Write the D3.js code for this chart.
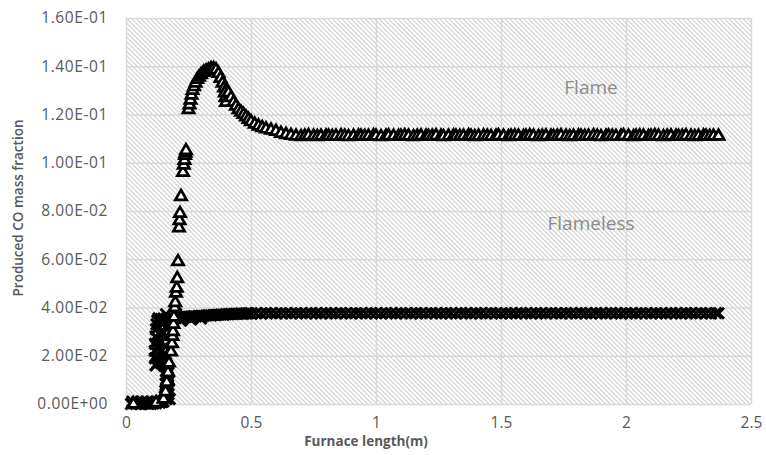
<!DOCTYPE html>
<html>
<head>
<meta charset="utf-8">
<script src="https://cdnjs.cloudflare.com/ajax/libs/d3/7.8.5/d3.min.js"></script>
<style>
  body { margin: 0; background: #fff; }
  svg { display: block; font-family: "Open Sans", sans-serif; }
</style>
</head>
<body>
<div class="chart"></div>
<script>
// tick labels
var xTicks = [0, 0.5, 1, 1.5, 2, 2.5];
var xTickLabels = ["0", "0.5", "1", "1.5", "2", "2.5"];
var yTicks = [0, 0.02, 0.04, 0.06, 0.08, 0.1, 0.12, 0.14, 0.16];
var yTickLabels = ["0.00E+00", "2.00E-02", "4.00E-02", "6.00E-02", "8.00E-02",
                   "1.00E-01", "1.20E-01", "1.40E-01", "1.60E-01"];

// flameless case (x markers) : [furnace length, CO mass fraction]
var flameless = [
  [0.02, 0], [0.025, 0.001], [0.03, 0.0003], [0.04, 0], [0.045, 0.001], [0.05, 0.0002], [0.06, 0], [0.065, 0.001],
  [0.07, 0.0003], [0.08, 0.0002], [0.085, 0.001], [0.09, 0], [0.1, 0], [0.105, 0.001], [0.11, 0.0002],
  [0.12, 0.0003], [0.125, 0.001], [0.135, 0.0005], [0.14, 0.0012], [0.145, 0.0008], [0.15, 0.001],
  [0.155, 0.003], [0.158, 0.004], [0.16, 0.005], [0.163, 0.007], [0.166, 0.009], [0.16, 0.010], [0.168, 0.011],
  [0.17, 0.013], [0.165, 0.015], [0.172, 0.006], [0.175, 0.002], [0.158, 0.012], [0.17, 0.004],
  [0.162, 0.002], [0.168, 0.008], [0.164, 0.012], [0.172, 0.010],
  [0.118, 0.016], [0.116, 0.019], [0.115, 0.022], [0.116, 0.025], [0.118, 0.028], [0.12, 0.031], [0.122, 0.033],
  [0.125, 0.0345], [0.13, 0.0355], [0.14, 0.017], [0.15, 0.02], [0.155, 0.024], [0.16, 0.028], [0.165, 0.031],
  [0.17, 0.033], [0.145, 0.03], [0.135, 0.025], [0.128, 0.019], [0.132, 0.029], [0.142, 0.022], [0.152, 0.016],
  [0.125, 0.017], [0.125, 0.023], [0.127, 0.027], [0.14, 0.026], [0.148, 0.018], [0.155, 0.021], [0.16, 0.017],
  [0.15, 0.0335], [0.18, 0.034], [0.22, 0.0345], [0.26, 0.035], [0.3, 0.0355], [0.16, 0.0372], [0.2, 0.0374],
  [0.14, 0.0352], [0.15, 0.0354], [0.16, 0.0352], [0.17, 0.0356], [0.18, 0.0355], [0.19, 0.0358], [0.2, 0.0357],
  [0.21, 0.036], [0.22, 0.0359], [0.23, 0.0361], [0.24, 0.0362], [0.25, 0.0361], [0.26, 0.0363], [0.27, 0.0364],
  [0.28, 0.0363], [0.29, 0.0365], [0.3, 0.0366], [0.31, 0.0365], [0.32, 0.0367], [0.33, 0.0368], [0.34, 0.0367],
  [0.35, 0.0369], [0.36, 0.0369], [0.37, 0.037], [0.38, 0.0371], [0.39, 0.037], [0.4, 0.0372], [0.41, 0.0372],
  [0.42, 0.0373], [0.43, 0.0373], [0.44, 0.0374], [0.45, 0.0374], [0.46, 0.0375], [0.47, 0.0374], [0.48, 0.0375],
  [0.49, 0.0376], [0.5, 0.0375],
  [0.52, 0.0376], [0.54, 0.0375], [0.56, 0.0377], [0.58, 0.0376], [0.6, 0.0375], [0.62, 0.0377], [0.64, 0.0376],
  [0.66, 0.0375], [0.68, 0.0377], [0.7, 0.0376], [0.72, 0.0375], [0.74, 0.0377], [0.76, 0.0376], [0.78, 0.0375],
  [0.8, 0.0377], [0.82, 0.0376], [0.84, 0.0375], [0.86, 0.0377], [0.88, 0.0376], [0.9, 0.0375], [0.92, 0.0377],
  [0.94, 0.0376], [0.96, 0.0375], [0.98, 0.0377], [1.0, 0.0376], [1.02, 0.0375], [1.04, 0.0377], [1.06, 0.0376],
  [1.08, 0.0375], [1.1, 0.0377], [1.12, 0.0376], [1.14, 0.0375], [1.16, 0.0377], [1.18, 0.0376], [1.2, 0.0375],
  [1.22, 0.0377], [1.24, 0.0376], [1.26, 0.0375], [1.28, 0.0377], [1.3, 0.0376], [1.32, 0.0375], [1.34, 0.0377],
  [1.36, 0.0376], [1.38, 0.0375], [1.4, 0.0377], [1.42, 0.0376], [1.44, 0.0375], [1.46, 0.0377], [1.48, 0.0376],
  [1.5, 0.0375], [1.52, 0.0377], [1.54, 0.0376], [1.56, 0.0375], [1.58, 0.0377], [1.6, 0.0376], [1.62, 0.0375],
  [1.64, 0.0377], [1.66, 0.0376], [1.68, 0.0375], [1.7, 0.0377], [1.72, 0.0376], [1.74, 0.0375], [1.76, 0.0377],
  [1.78, 0.0376], [1.8, 0.0375], [1.82, 0.0377], [1.84, 0.0376], [1.86, 0.0375], [1.88, 0.0377], [1.9, 0.0376],
  [1.92, 0.0375], [1.94, 0.0377], [1.96, 0.0376], [1.98, 0.0375], [2.0, 0.0377], [2.02, 0.0376], [2.04, 0.0375],
  [2.06, 0.0377], [2.08, 0.0376], [2.1, 0.0375], [2.12, 0.0377], [2.14, 0.0376], [2.16, 0.0375], [2.18, 0.0377],
  [2.2, 0.0376], [2.22, 0.0375], [2.24, 0.0377], [2.26, 0.0376], [2.28, 0.0375], [2.3, 0.0377], [2.32, 0.0376],
  [2.34, 0.0375], [2.36, 0.0377], [2.37, 0.0376]
];

// flame case (triangles)
var flame = [
  [0.03, 0], [0.12, 0.0005], [0.15, 0.002], [0.158, 0.005], [0.163, 0.009], [0.168, 0.013], [0.172, 0.017],
  [0.18, 0.0216], [0.184, 0.025], [0.186, 0.028], [0.188, 0.030], [0.19, 0.033], [0.192, 0.036], [0.195, 0.040],
  [0.197, 0.042], [0.2, 0.046], [0.203, 0.048], [0.205, 0.052], [0.208, 0.059],
  [0.212, 0.073], [0.214, 0.076], [0.216, 0.079], [0.22, 0.086], [0.228, 0.096], [0.231, 0.099], [0.234, 0.101],
  [0.236, 0.103], [0.238, 0.104], [0.24, 0.105],
  [0.25, 0.122], [0.254, 0.124], [0.258, 0.126], [0.262, 0.128], [0.266, 0.13], [0.272, 0.1315], [0.278, 0.133],
  [0.285, 0.1345], [0.292, 0.1355], [0.30, 0.1365], [0.31, 0.1375], [0.32, 0.138], [0.33, 0.1385], [0.34, 0.139],
  [0.35, 0.139], [0.36, 0.1385], [0.37, 0.137], [0.378, 0.135], [0.386, 0.133], [0.392, 0.131], [0.395, 0.129],
  [0.398, 0.127], [0.40, 0.125], [0.41, 0.129], [0.42, 0.127], [0.43, 0.125], [0.44, 0.1235], [0.45, 0.122],
  [0.46, 0.121], [0.47, 0.12], [0.48, 0.119], [0.49, 0.118], [0.50, 0.117], [0.515, 0.116], [0.53, 0.1152],
  [0.545, 0.1145], [0.56, 0.114], [0.58, 0.1135], [0.60, 0.113], [0.62, 0.1122], [0.64, 0.1117], [0.66, 0.1113],
  [0.68, 0.111], [0.70, 0.1108], [0.715, 0.111], [0.73, 0.1112], [0.75, 0.111], [0.765, 0.1108], [0.78, 0.111],
  [0.80, 0.1111], [0.81, 0.111], [0.825, 0.1109], [0.84, 0.111], [0.86, 0.1112], [0.875, 0.111], [0.89, 0.1108],
  [0.91, 0.111], [0.93, 0.1111], [0.94, 0.111], [0.955, 0.1109], [0.97, 0.111], [0.99, 0.1112], [1.0, 0.111],
  [1.02, 0.1108], [1.04, 0.111], [1.05, 0.1111], [1.07, 0.111], [1.09, 0.1109], [1.1, 0.111], [1.115, 0.1112],
  [1.13, 0.111], [1.15, 0.1108], [1.165, 0.111], [1.18, 0.1111], [1.2, 0.111], [1.21, 0.1109], [1.225, 0.111],
  [1.24, 0.1112], [1.26, 0.111], [1.27, 0.1108], [1.29, 0.111], [1.31, 0.1111], [1.32, 0.111], [1.335, 0.1109],
  [1.35, 0.111], [1.37, 0.1112], [1.38, 0.111], [1.395, 0.1108], [1.41, 0.111], [1.43, 0.1111], [1.445, 0.111],
  [1.46, 0.1109], [1.48, 0.111], [1.49, 0.1112], [1.51, 0.111], [1.53, 0.1108], [1.54, 0.111], [1.555, 0.1111],
  [1.57, 0.111], [1.59, 0.1109], [1.6, 0.111], [1.615, 0.1112], [1.63, 0.111], [1.65, 0.1108], [1.665, 0.111],
  [1.68, 0.1111], [1.7, 0.111], [1.71, 0.1109], [1.725, 0.111], [1.74, 0.1112], [1.76, 0.111], [1.775, 0.1108],
  [1.79, 0.111], [1.81, 0.1111], [1.82, 0.111], [1.835, 0.1109], [1.85, 0.111], [1.87, 0.1112], [1.885, 0.111],
  [1.9, 0.1108], [1.92, 0.111], [1.93, 0.1111], [1.945, 0.111], [1.96, 0.1109], [1.98, 0.111], [1.99, 0.1112],
  [2.01, 0.111], [2.03, 0.1108], [2.04, 0.111], [2.055, 0.1111], [2.07, 0.111], [2.09, 0.1109], [2.1, 0.111],
  [2.115, 0.1112], [2.13, 0.111], [2.15, 0.1108], [2.165, 0.111], [2.18, 0.1111], [2.2, 0.111], [2.21, 0.1109],
  [2.225, 0.111], [2.24, 0.1112], [2.26, 0.111], [2.275, 0.1108], [2.29, 0.111], [2.31, 0.1111], [2.32, 0.111],
  [2.335, 0.1109], [2.35, 0.111], [2.37, 0.111]
];

var width = 766;
var height = 455;
var plotLeft = 126, plotTop = 18, plotRight = 751, plotBottom = 404;

var svg = d3.select('div.chart')
  .append('svg')
  .attr('width', width)
  .attr('height', height);

// diagonal hatch for plot area
var pat = svg.append('defs').append('pattern')
  .attr('id', 'hatch')
  .attr('patternUnits', 'userSpaceOnUse')
  .attr('width', 3.3)
  .attr('height', 10)
  .attr('patternTransform', 'rotate(-45)');
pat.append('rect').attr('width', 3.3).attr('height', 10).attr('fill', '#ffffff');
pat.append('line')
  .attr('x1', 0.6).attr('y1', 0).attr('x2', 0.6).attr('y2', 10)
  .attr('stroke', '#cdcdcd')
  .attr('stroke-width', 1.1);

var xScale = d3.scaleLinear().domain([0, 2.5]).range([plotLeft, plotRight]);
var yScale = d3.scaleLinear().domain([0, 0.16]).range([plotBottom, plotTop]);

svg.append('rect')
  .attr('x', plotLeft).attr('y', plotTop)
  .attr('width', plotRight - plotLeft).attr('height', plotBottom - plotTop)
  .attr('fill', 'url(#hatch)');

// grid lines
svg.append('g')
  .attr('transform', 'translate(0,' + plotBottom + ')')
  .call(d3.axisBottom(xScale).tickValues(xTicks).tickSize(-(plotBottom - plotTop)).tickFormat(''))
  .call(function(g) {
    g.select('.domain').remove();
    g.selectAll('line').attr('stroke', '#d9d9d9').attr('stroke-width', 1.5);
  });
svg.append('g')
  .attr('transform', 'translate(' + plotLeft + ',0)')
  .call(d3.axisLeft(yScale).tickValues(yTicks).tickSize(-(plotRight - plotLeft)).tickFormat(''))
  .call(function(g) {
    g.select('.domain').remove();
    g.selectAll('line').attr('stroke', '#d9d9d9').attr('stroke-width', 1.5);
  });

// tick labels
svg.append('g')
  .attr('transform', 'translate(0,' + plotBottom + ')')
  .call(d3.axisBottom(xScale).tickValues(xTicks).tickSize(0).tickPadding(13)
    .tickFormat(function(d, i) { return xTickLabels[i]; }))
  .call(function(g) {
    g.select('.domain').remove();
    g.selectAll('text').attr('fill', '#595959').attr('font-size', '15.5px')
      .attr('font-family', '"Open Sans", sans-serif');
  });
svg.append('g')
  .attr('transform', 'translate(' + (plotLeft - 18) + ',0)')
  .call(d3.axisLeft(yScale).tickValues(yTicks).tickSize(0).tickPadding(0)
    .tickFormat(function(d, i) { return yTickLabels[i]; }))
  .call(function(g) {
    g.select('.domain').remove();
    g.selectAll('text').attr('fill', '#595959').attr('font-size', '15.5px')
      .attr('letter-spacing', '0.6px')
      .attr('font-family', '"Open Sans", sans-serif');
  });

// axis titles
svg.append('text')
  .attr('x', 366).attr('y', 446)
  .attr('text-anchor', 'middle')
  .attr('fill', '#595959')
  .attr('font-size', '13.5px')
  .attr('font-weight', 'bold')
  .text('Furnace length(m)');
svg.append('text')
  .attr('transform', 'translate(23,208) rotate(-90)')
  .attr('text-anchor', 'middle')
  .attr('fill', '#595959')
  .attr('font-size', '13.5px')
  .attr('font-weight', '600')
  .text('Produced CO mass fraction');

// flameless: x markers
var xSym = d3.symbol().type(d3.symbolX).size(80);
svg.append('g').selectAll('path')
  .data(flameless)
  .enter()
  .append('path')
  .attr('transform', function(d) { return 'translate(' + xScale(d[0]) + ',' + yScale(d[1]) + ')'; })
  .attr('d', xSym)
  .attr('fill', 'none')
  .attr('stroke', '#000')
  .attr('stroke-width', 3);

// flame: triangles
var triSym = d3.symbol().type(d3.symbolTriangle).size(55);
svg.append('g').selectAll('path')
  .data(flame)
  .enter()
  .append('path')
  .attr('transform', function(d) { return 'translate(' + xScale(d[0]) + ',' + yScale(d[1]) + ')'; })
  .attr('d', triSym)
  .attr('fill', '#fff')
  .attr('stroke', '#000')
  .attr('stroke-width', 2.7)
  .attr('stroke-linejoin', 'miter');

// series labels
svg.append('text')
  .attr('x', 591).attr('y', 94)
  .attr('text-anchor', 'middle')
  .attr('fill', '#8c8c8c')
  .attr('font-size', '19px')
  .text('Flame');
svg.append('text')
  .attr('x', 591).attr('y', 230)
  .attr('text-anchor', 'middle')
  .attr('fill', '#8c8c8c')
  .attr('font-size', '19px')
  .text('Flameless');
</script>
</body>
</html>
